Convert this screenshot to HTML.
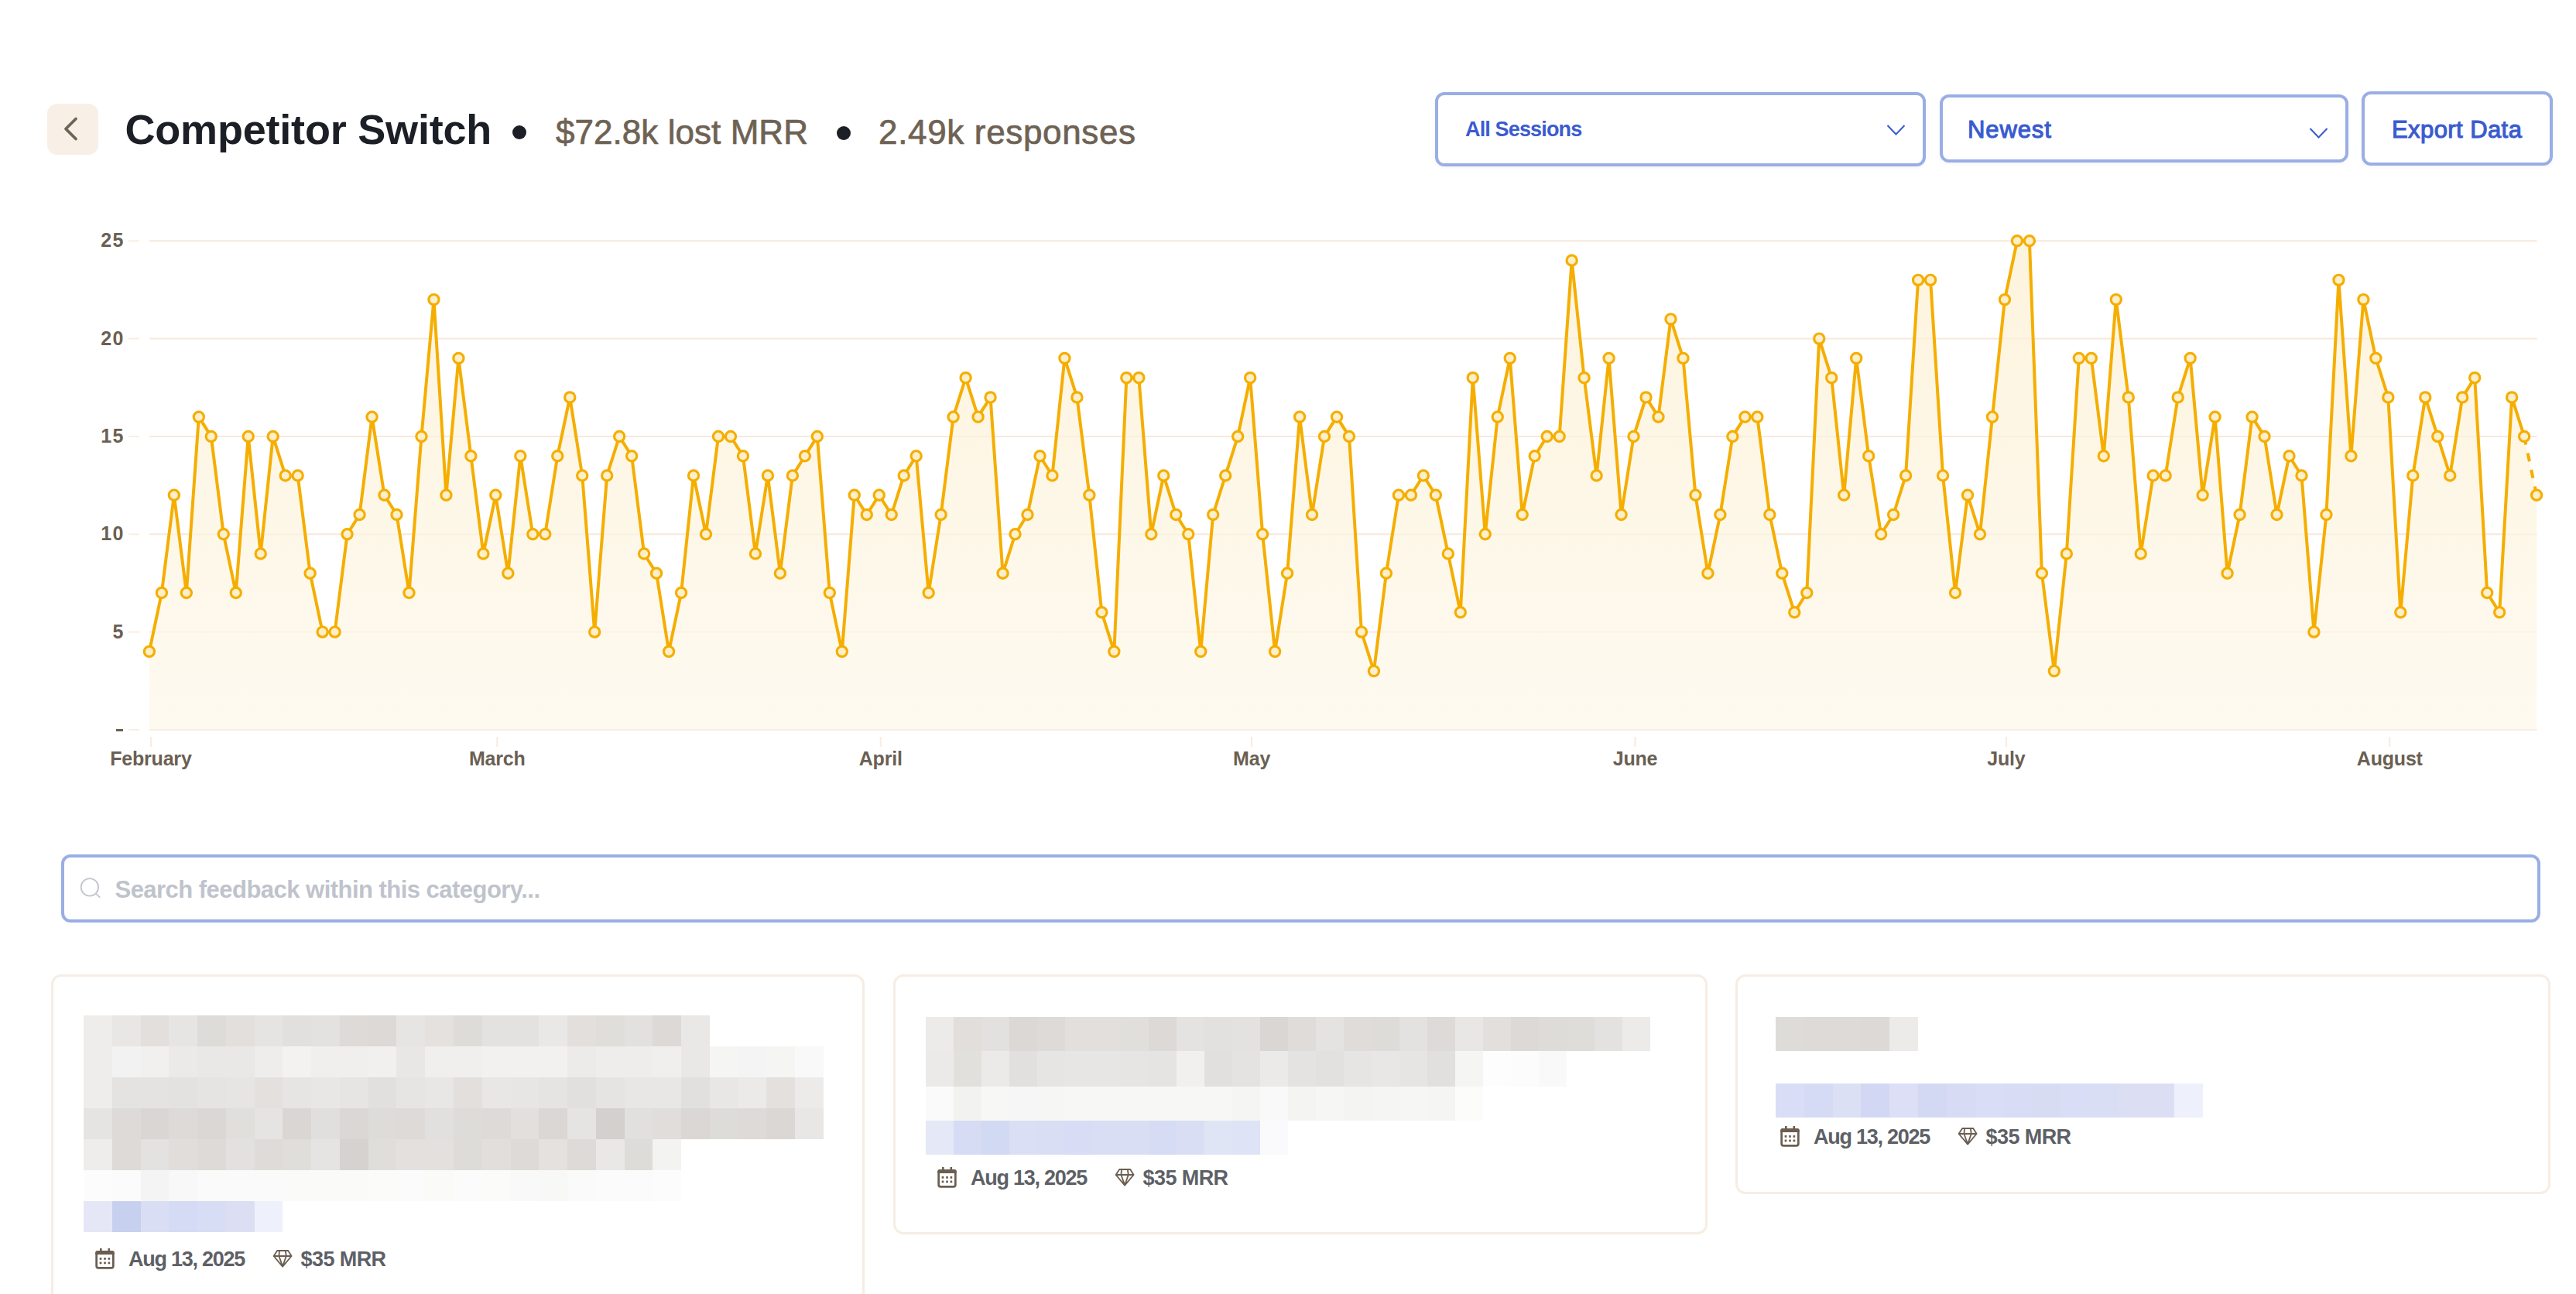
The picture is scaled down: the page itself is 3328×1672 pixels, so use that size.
<!DOCTYPE html>
<html><head><meta charset="utf-8"><style>
html,body{margin:0;padding:0;width:3328px;height:1672px;overflow:hidden;background:#fff}
body{position:relative;font-family:"Liberation Sans",sans-serif}
.t{position:absolute;white-space:nowrap;line-height:1}
</style></head><body>
<div style="position:absolute;left:61px;top:134px;width:66px;height:66px;border-radius:13px;background:#f8efe6"></div><svg style="position:absolute;left:0;top:0" width="200" height="220"><path d="M98 153.5 L85 166.5 L98 179.5" fill="none" stroke="#6f6355" stroke-width="3.8" stroke-linecap="round" stroke-linejoin="round"/></svg><div class="t" style="left:161.5px;top:140.3px;font-size:54px;color:#1c1f26;font-weight:700;letter-spacing:-0.2px;">Competitor Switch</div><div style="position:absolute;left:661.5px;top:162px;width:18px;height:18px;border-radius:50%;background:#1c1f26"></div><div class="t" style="left:718.0px;top:148.8px;font-size:44px;color:#6e6254;font-weight:400;letter-spacing:0.05px;-webkit-text-stroke:0.7px #6e6254;">$72.8k lost MRR</div><div style="position:absolute;left:1080.5px;top:163px;width:18px;height:18px;border-radius:50%;background:#1c1f26"></div><div class="t" style="left:1135.0px;top:148.8px;font-size:44px;color:#6e6254;font-weight:400;letter-spacing:0.66px;-webkit-text-stroke:0.7px #6e6254;">2.49k responses</div><div style="position:absolute;left:1854px;top:119px;width:634px;height:96px;box-sizing:border-box;border:4px solid #9aaee5;border-radius:12px;background:#fff;box-shadow:0 2px 5px rgba(0,0,0,0.045)"></div><div class="t" style="left:1893.0px;top:154.1px;font-size:27px;color:#3a5bd0;font-weight:700;letter-spacing:-0.85px;">All Sessions</div><svg style="position:absolute;left:0;top:0;overflow:visible" width="1" height="1"><path d="M2438.5 162 L2449.5 173.5 L2460.5 162" fill="none" stroke="#3a5bd0" stroke-width="2"/></svg><div style="position:absolute;left:2506px;top:122px;width:528px;height:88px;box-sizing:border-box;border:4px solid #9aaee5;border-radius:12px;background:#fff;box-shadow:0 2px 5px rgba(0,0,0,0.045)"></div><div class="t" style="left:2542.0px;top:151.8px;font-size:31px;color:#3a5bd0;font-weight:400;letter-spacing:0.9px;-webkit-text-stroke:1.1px #3a5bd0;">Newest</div><svg style="position:absolute;left:0;top:0;overflow:visible" width="1" height="1"><path d="M2984.5 166 L2995.5 177.5 L3006.5 166" fill="none" stroke="#3a5bd0" stroke-width="2"/></svg><div style="position:absolute;left:3051px;top:118px;width:247px;height:96px;box-sizing:border-box;border:4px solid #9aaee5;border-radius:12px;background:#fff;box-shadow:0 2px 5px rgba(0,0,0,0.045)"></div><div class="t" style="left:3090.0px;top:151.8px;font-size:31px;color:#3a5bd0;font-weight:400;letter-spacing:0.42px;-webkit-text-stroke:1.1px #3a5bd0;">Export Data</div><svg style="position:absolute;left:0;top:0" width="3328" height="1672"><defs><linearGradient id="ag" x1="0" y1="311" x2="0" y2="943" gradientUnits="userSpaceOnUse"><stop offset="0" stop-color="#fdf4de"/><stop offset="1" stop-color="#fefaf0"/></linearGradient></defs><rect x="193" y="941.9" width="3084.5" height="2" fill="#f9eee4"/><rect x="166" y="941.9" width="14" height="2" fill="#f9eee4"/><rect x="193" y="815.6" width="3084.5" height="2" fill="#f9eee4"/><rect x="166" y="815.6" width="14" height="2" fill="#f9eee4"/><rect x="193" y="689.3" width="3084.5" height="2" fill="#f9eee4"/><rect x="166" y="689.3" width="14" height="2" fill="#f9eee4"/><rect x="193" y="562.9" width="3084.5" height="2" fill="#f9eee4"/><rect x="166" y="562.9" width="14" height="2" fill="#f9eee4"/><rect x="193" y="436.6" width="3084.5" height="2" fill="#f9eee4"/><rect x="166" y="436.6" width="14" height="2" fill="#f9eee4"/><rect x="193" y="310.3" width="3084.5" height="2" fill="#f9eee4"/><rect x="166" y="310.3" width="14" height="2" fill="#f9eee4"/><polygon points="192.90,942.9 192.90,841.84 208.88,766.05 224.86,639.73 240.84,766.05 256.82,538.68 272.80,563.94 288.78,690.26 304.76,766.05 320.74,563.94 336.72,715.52 352.70,563.94 368.68,614.47 384.66,614.47 400.64,740.79 416.62,816.58 432.60,816.58 448.58,690.26 464.57,665.00 480.55,538.68 496.53,639.73 512.51,665.00 528.49,766.05 544.47,563.94 560.45,387.09 576.43,639.73 592.41,462.88 608.39,589.20 624.37,715.52 640.35,639.73 656.33,740.79 672.31,589.20 688.29,690.26 704.27,690.26 720.25,589.20 736.23,513.41 752.21,614.47 768.19,816.58 784.17,614.47 800.15,563.94 816.13,589.20 832.11,715.52 848.09,740.79 864.07,841.84 880.05,766.05 896.03,614.47 912.01,690.26 927.99,563.94 943.97,563.94 959.95,589.20 975.94,715.52 991.92,614.47 1007.90,740.79 1023.88,614.47 1039.86,589.20 1055.84,563.94 1071.82,766.05 1087.80,841.84 1103.78,639.73 1119.76,665.00 1135.74,639.73 1151.72,665.00 1167.70,614.47 1183.68,589.20 1199.66,766.05 1215.64,665.00 1231.62,538.68 1247.60,488.15 1263.58,538.68 1279.56,513.41 1295.54,740.79 1311.52,690.26 1327.50,665.00 1343.48,589.20 1359.46,614.47 1375.44,462.88 1391.42,513.41 1407.40,639.73 1423.38,791.32 1439.36,841.84 1455.34,488.15 1471.32,488.15 1487.31,690.26 1503.29,614.47 1519.27,665.00 1535.25,690.26 1551.23,841.84 1567.21,665.00 1583.19,614.47 1599.17,563.94 1615.15,488.15 1631.13,690.26 1647.11,841.84 1663.09,740.79 1679.07,538.68 1695.05,665.00 1711.03,563.94 1727.01,538.68 1742.99,563.94 1758.97,816.58 1774.95,867.11 1790.93,740.79 1806.91,639.73 1822.89,639.73 1838.87,614.47 1854.85,639.73 1870.83,715.52 1886.81,791.32 1902.79,488.15 1918.77,690.26 1934.75,538.68 1950.73,462.88 1966.71,665.00 1982.69,589.20 1998.68,563.94 2014.66,563.94 2030.64,336.56 2046.62,488.15 2062.60,614.47 2078.58,462.88 2094.56,665.00 2110.54,563.94 2126.52,513.41 2142.50,538.68 2158.48,412.36 2174.46,462.88 2190.44,639.73 2206.42,740.79 2222.40,665.00 2238.38,563.94 2254.36,538.68 2270.34,538.68 2286.32,665.00 2302.30,740.79 2318.28,791.32 2334.26,766.05 2350.24,437.62 2366.22,488.15 2382.20,639.73 2398.18,462.88 2414.16,589.20 2430.14,690.26 2446.12,665.00 2462.10,614.47 2478.08,361.83 2494.06,361.83 2510.05,614.47 2526.03,766.05 2542.01,639.73 2557.99,690.26 2573.97,538.68 2589.95,387.09 2605.93,311.30 2621.91,311.30 2637.89,740.79 2653.87,867.11 2669.85,715.52 2685.83,462.88 2701.81,462.88 2717.79,589.20 2733.77,387.09 2749.75,513.41 2765.73,715.52 2781.71,614.47 2797.69,614.47 2813.67,513.41 2829.65,462.88 2845.63,639.73 2861.61,538.68 2877.59,740.79 2893.57,665.00 2909.55,538.68 2925.53,563.94 2941.51,665.00 2957.49,589.20 2973.47,614.47 2989.45,816.58 3005.43,665.00 3021.42,361.83 3037.40,589.20 3053.38,387.09 3069.36,462.88 3085.34,513.41 3101.32,791.32 3117.30,614.47 3133.28,513.41 3149.26,563.94 3165.24,614.47 3181.22,513.41 3197.20,488.15 3213.18,766.05 3229.16,791.32 3245.14,513.41 3261.12,563.94 3277.10,639.73 3277.10,942.9" fill="url(#ag)"/><rect x="193" y="815.6" width="3084.5" height="2" fill="#f3dcc6" opacity="0.22"/><rect x="193" y="689.3" width="3084.5" height="2" fill="#f3dcc6" opacity="0.22"/><rect x="193" y="562.9" width="3084.5" height="2" fill="#f3dcc6" opacity="0.22"/><rect x="193" y="436.6" width="3084.5" height="2" fill="#f3dcc6" opacity="0.22"/><rect x="193" y="310.3" width="3084.5" height="2" fill="#f3dcc6" opacity="0.22"/><rect x="193" y="941.9" width="3084.5" height="2" fill="#f9eee4"/><polyline points="192.90,841.84 208.88,766.05 224.86,639.73 240.84,766.05 256.82,538.68 272.80,563.94 288.78,690.26 304.76,766.05 320.74,563.94 336.72,715.52 352.70,563.94 368.68,614.47 384.66,614.47 400.64,740.79 416.62,816.58 432.60,816.58 448.58,690.26 464.57,665.00 480.55,538.68 496.53,639.73 512.51,665.00 528.49,766.05 544.47,563.94 560.45,387.09 576.43,639.73 592.41,462.88 608.39,589.20 624.37,715.52 640.35,639.73 656.33,740.79 672.31,589.20 688.29,690.26 704.27,690.26 720.25,589.20 736.23,513.41 752.21,614.47 768.19,816.58 784.17,614.47 800.15,563.94 816.13,589.20 832.11,715.52 848.09,740.79 864.07,841.84 880.05,766.05 896.03,614.47 912.01,690.26 927.99,563.94 943.97,563.94 959.95,589.20 975.94,715.52 991.92,614.47 1007.90,740.79 1023.88,614.47 1039.86,589.20 1055.84,563.94 1071.82,766.05 1087.80,841.84 1103.78,639.73 1119.76,665.00 1135.74,639.73 1151.72,665.00 1167.70,614.47 1183.68,589.20 1199.66,766.05 1215.64,665.00 1231.62,538.68 1247.60,488.15 1263.58,538.68 1279.56,513.41 1295.54,740.79 1311.52,690.26 1327.50,665.00 1343.48,589.20 1359.46,614.47 1375.44,462.88 1391.42,513.41 1407.40,639.73 1423.38,791.32 1439.36,841.84 1455.34,488.15 1471.32,488.15 1487.31,690.26 1503.29,614.47 1519.27,665.00 1535.25,690.26 1551.23,841.84 1567.21,665.00 1583.19,614.47 1599.17,563.94 1615.15,488.15 1631.13,690.26 1647.11,841.84 1663.09,740.79 1679.07,538.68 1695.05,665.00 1711.03,563.94 1727.01,538.68 1742.99,563.94 1758.97,816.58 1774.95,867.11 1790.93,740.79 1806.91,639.73 1822.89,639.73 1838.87,614.47 1854.85,639.73 1870.83,715.52 1886.81,791.32 1902.79,488.15 1918.77,690.26 1934.75,538.68 1950.73,462.88 1966.71,665.00 1982.69,589.20 1998.68,563.94 2014.66,563.94 2030.64,336.56 2046.62,488.15 2062.60,614.47 2078.58,462.88 2094.56,665.00 2110.54,563.94 2126.52,513.41 2142.50,538.68 2158.48,412.36 2174.46,462.88 2190.44,639.73 2206.42,740.79 2222.40,665.00 2238.38,563.94 2254.36,538.68 2270.34,538.68 2286.32,665.00 2302.30,740.79 2318.28,791.32 2334.26,766.05 2350.24,437.62 2366.22,488.15 2382.20,639.73 2398.18,462.88 2414.16,589.20 2430.14,690.26 2446.12,665.00 2462.10,614.47 2478.08,361.83 2494.06,361.83 2510.05,614.47 2526.03,766.05 2542.01,639.73 2557.99,690.26 2573.97,538.68 2589.95,387.09 2605.93,311.30 2621.91,311.30 2637.89,740.79 2653.87,867.11 2669.85,715.52 2685.83,462.88 2701.81,462.88 2717.79,589.20 2733.77,387.09 2749.75,513.41 2765.73,715.52 2781.71,614.47 2797.69,614.47 2813.67,513.41 2829.65,462.88 2845.63,639.73 2861.61,538.68 2877.59,740.79 2893.57,665.00 2909.55,538.68 2925.53,563.94 2941.51,665.00 2957.49,589.20 2973.47,614.47 2989.45,816.58 3005.43,665.00 3021.42,361.83 3037.40,589.20 3053.38,387.09 3069.36,462.88 3085.34,513.41 3101.32,791.32 3117.30,614.47 3133.28,513.41 3149.26,563.94 3165.24,614.47 3181.22,513.41 3197.20,488.15 3213.18,766.05 3229.16,791.32 3245.14,513.41 3261.12,563.94" fill="none" stroke="#f5ae00" stroke-width="4" stroke-linejoin="round" stroke-linecap="round"/><line x1="3261.12" y1="563.94" x2="3277.10" y2="639.73" stroke="#f5ae00" stroke-width="4" stroke-dasharray="11 11"/><circle cx="192.90" cy="841.84" r="6.6" fill="#fdefca" stroke="#f5ae00" stroke-width="3.2"/><circle cx="208.88" cy="766.05" r="6.6" fill="#fdefca" stroke="#f5ae00" stroke-width="3.2"/><circle cx="224.86" cy="639.73" r="6.6" fill="#fdefca" stroke="#f5ae00" stroke-width="3.2"/><circle cx="240.84" cy="766.05" r="6.6" fill="#fdefca" stroke="#f5ae00" stroke-width="3.2"/><circle cx="256.82" cy="538.68" r="6.6" fill="#fdefca" stroke="#f5ae00" stroke-width="3.2"/><circle cx="272.80" cy="563.94" r="6.6" fill="#fdefca" stroke="#f5ae00" stroke-width="3.2"/><circle cx="288.78" cy="690.26" r="6.6" fill="#fdefca" stroke="#f5ae00" stroke-width="3.2"/><circle cx="304.76" cy="766.05" r="6.6" fill="#fdefca" stroke="#f5ae00" stroke-width="3.2"/><circle cx="320.74" cy="563.94" r="6.6" fill="#fdefca" stroke="#f5ae00" stroke-width="3.2"/><circle cx="336.72" cy="715.52" r="6.6" fill="#fdefca" stroke="#f5ae00" stroke-width="3.2"/><circle cx="352.70" cy="563.94" r="6.6" fill="#fdefca" stroke="#f5ae00" stroke-width="3.2"/><circle cx="368.68" cy="614.47" r="6.6" fill="#fdefca" stroke="#f5ae00" stroke-width="3.2"/><circle cx="384.66" cy="614.47" r="6.6" fill="#fdefca" stroke="#f5ae00" stroke-width="3.2"/><circle cx="400.64" cy="740.79" r="6.6" fill="#fdefca" stroke="#f5ae00" stroke-width="3.2"/><circle cx="416.62" cy="816.58" r="6.6" fill="#fdefca" stroke="#f5ae00" stroke-width="3.2"/><circle cx="432.60" cy="816.58" r="6.6" fill="#fdefca" stroke="#f5ae00" stroke-width="3.2"/><circle cx="448.58" cy="690.26" r="6.6" fill="#fdefca" stroke="#f5ae00" stroke-width="3.2"/><circle cx="464.57" cy="665.00" r="6.6" fill="#fdefca" stroke="#f5ae00" stroke-width="3.2"/><circle cx="480.55" cy="538.68" r="6.6" fill="#fdefca" stroke="#f5ae00" stroke-width="3.2"/><circle cx="496.53" cy="639.73" r="6.6" fill="#fdefca" stroke="#f5ae00" stroke-width="3.2"/><circle cx="512.51" cy="665.00" r="6.6" fill="#fdefca" stroke="#f5ae00" stroke-width="3.2"/><circle cx="528.49" cy="766.05" r="6.6" fill="#fdefca" stroke="#f5ae00" stroke-width="3.2"/><circle cx="544.47" cy="563.94" r="6.6" fill="#fdefca" stroke="#f5ae00" stroke-width="3.2"/><circle cx="560.45" cy="387.09" r="6.6" fill="#fdefca" stroke="#f5ae00" stroke-width="3.2"/><circle cx="576.43" cy="639.73" r="6.6" fill="#fdefca" stroke="#f5ae00" stroke-width="3.2"/><circle cx="592.41" cy="462.88" r="6.6" fill="#fdefca" stroke="#f5ae00" stroke-width="3.2"/><circle cx="608.39" cy="589.20" r="6.6" fill="#fdefca" stroke="#f5ae00" stroke-width="3.2"/><circle cx="624.37" cy="715.52" r="6.6" fill="#fdefca" stroke="#f5ae00" stroke-width="3.2"/><circle cx="640.35" cy="639.73" r="6.6" fill="#fdefca" stroke="#f5ae00" stroke-width="3.2"/><circle cx="656.33" cy="740.79" r="6.6" fill="#fdefca" stroke="#f5ae00" stroke-width="3.2"/><circle cx="672.31" cy="589.20" r="6.6" fill="#fdefca" stroke="#f5ae00" stroke-width="3.2"/><circle cx="688.29" cy="690.26" r="6.6" fill="#fdefca" stroke="#f5ae00" stroke-width="3.2"/><circle cx="704.27" cy="690.26" r="6.6" fill="#fdefca" stroke="#f5ae00" stroke-width="3.2"/><circle cx="720.25" cy="589.20" r="6.6" fill="#fdefca" stroke="#f5ae00" stroke-width="3.2"/><circle cx="736.23" cy="513.41" r="6.6" fill="#fdefca" stroke="#f5ae00" stroke-width="3.2"/><circle cx="752.21" cy="614.47" r="6.6" fill="#fdefca" stroke="#f5ae00" stroke-width="3.2"/><circle cx="768.19" cy="816.58" r="6.6" fill="#fdefca" stroke="#f5ae00" stroke-width="3.2"/><circle cx="784.17" cy="614.47" r="6.6" fill="#fdefca" stroke="#f5ae00" stroke-width="3.2"/><circle cx="800.15" cy="563.94" r="6.6" fill="#fdefca" stroke="#f5ae00" stroke-width="3.2"/><circle cx="816.13" cy="589.20" r="6.6" fill="#fdefca" stroke="#f5ae00" stroke-width="3.2"/><circle cx="832.11" cy="715.52" r="6.6" fill="#fdefca" stroke="#f5ae00" stroke-width="3.2"/><circle cx="848.09" cy="740.79" r="6.6" fill="#fdefca" stroke="#f5ae00" stroke-width="3.2"/><circle cx="864.07" cy="841.84" r="6.6" fill="#fdefca" stroke="#f5ae00" stroke-width="3.2"/><circle cx="880.05" cy="766.05" r="6.6" fill="#fdefca" stroke="#f5ae00" stroke-width="3.2"/><circle cx="896.03" cy="614.47" r="6.6" fill="#fdefca" stroke="#f5ae00" stroke-width="3.2"/><circle cx="912.01" cy="690.26" r="6.6" fill="#fdefca" stroke="#f5ae00" stroke-width="3.2"/><circle cx="927.99" cy="563.94" r="6.6" fill="#fdefca" stroke="#f5ae00" stroke-width="3.2"/><circle cx="943.97" cy="563.94" r="6.6" fill="#fdefca" stroke="#f5ae00" stroke-width="3.2"/><circle cx="959.95" cy="589.20" r="6.6" fill="#fdefca" stroke="#f5ae00" stroke-width="3.2"/><circle cx="975.94" cy="715.52" r="6.6" fill="#fdefca" stroke="#f5ae00" stroke-width="3.2"/><circle cx="991.92" cy="614.47" r="6.6" fill="#fdefca" stroke="#f5ae00" stroke-width="3.2"/><circle cx="1007.90" cy="740.79" r="6.6" fill="#fdefca" stroke="#f5ae00" stroke-width="3.2"/><circle cx="1023.88" cy="614.47" r="6.6" fill="#fdefca" stroke="#f5ae00" stroke-width="3.2"/><circle cx="1039.86" cy="589.20" r="6.6" fill="#fdefca" stroke="#f5ae00" stroke-width="3.2"/><circle cx="1055.84" cy="563.94" r="6.6" fill="#fdefca" stroke="#f5ae00" stroke-width="3.2"/><circle cx="1071.82" cy="766.05" r="6.6" fill="#fdefca" stroke="#f5ae00" stroke-width="3.2"/><circle cx="1087.80" cy="841.84" r="6.6" fill="#fdefca" stroke="#f5ae00" stroke-width="3.2"/><circle cx="1103.78" cy="639.73" r="6.6" fill="#fdefca" stroke="#f5ae00" stroke-width="3.2"/><circle cx="1119.76" cy="665.00" r="6.6" fill="#fdefca" stroke="#f5ae00" stroke-width="3.2"/><circle cx="1135.74" cy="639.73" r="6.6" fill="#fdefca" stroke="#f5ae00" stroke-width="3.2"/><circle cx="1151.72" cy="665.00" r="6.6" fill="#fdefca" stroke="#f5ae00" stroke-width="3.2"/><circle cx="1167.70" cy="614.47" r="6.6" fill="#fdefca" stroke="#f5ae00" stroke-width="3.2"/><circle cx="1183.68" cy="589.20" r="6.6" fill="#fdefca" stroke="#f5ae00" stroke-width="3.2"/><circle cx="1199.66" cy="766.05" r="6.6" fill="#fdefca" stroke="#f5ae00" stroke-width="3.2"/><circle cx="1215.64" cy="665.00" r="6.6" fill="#fdefca" stroke="#f5ae00" stroke-width="3.2"/><circle cx="1231.62" cy="538.68" r="6.6" fill="#fdefca" stroke="#f5ae00" stroke-width="3.2"/><circle cx="1247.60" cy="488.15" r="6.6" fill="#fdefca" stroke="#f5ae00" stroke-width="3.2"/><circle cx="1263.58" cy="538.68" r="6.6" fill="#fdefca" stroke="#f5ae00" stroke-width="3.2"/><circle cx="1279.56" cy="513.41" r="6.6" fill="#fdefca" stroke="#f5ae00" stroke-width="3.2"/><circle cx="1295.54" cy="740.79" r="6.6" fill="#fdefca" stroke="#f5ae00" stroke-width="3.2"/><circle cx="1311.52" cy="690.26" r="6.6" fill="#fdefca" stroke="#f5ae00" stroke-width="3.2"/><circle cx="1327.50" cy="665.00" r="6.6" fill="#fdefca" stroke="#f5ae00" stroke-width="3.2"/><circle cx="1343.48" cy="589.20" r="6.6" fill="#fdefca" stroke="#f5ae00" stroke-width="3.2"/><circle cx="1359.46" cy="614.47" r="6.6" fill="#fdefca" stroke="#f5ae00" stroke-width="3.2"/><circle cx="1375.44" cy="462.88" r="6.6" fill="#fdefca" stroke="#f5ae00" stroke-width="3.2"/><circle cx="1391.42" cy="513.41" r="6.6" fill="#fdefca" stroke="#f5ae00" stroke-width="3.2"/><circle cx="1407.40" cy="639.73" r="6.6" fill="#fdefca" stroke="#f5ae00" stroke-width="3.2"/><circle cx="1423.38" cy="791.32" r="6.6" fill="#fdefca" stroke="#f5ae00" stroke-width="3.2"/><circle cx="1439.36" cy="841.84" r="6.6" fill="#fdefca" stroke="#f5ae00" stroke-width="3.2"/><circle cx="1455.34" cy="488.15" r="6.6" fill="#fdefca" stroke="#f5ae00" stroke-width="3.2"/><circle cx="1471.32" cy="488.15" r="6.6" fill="#fdefca" stroke="#f5ae00" stroke-width="3.2"/><circle cx="1487.31" cy="690.26" r="6.6" fill="#fdefca" stroke="#f5ae00" stroke-width="3.2"/><circle cx="1503.29" cy="614.47" r="6.6" fill="#fdefca" stroke="#f5ae00" stroke-width="3.2"/><circle cx="1519.27" cy="665.00" r="6.6" fill="#fdefca" stroke="#f5ae00" stroke-width="3.2"/><circle cx="1535.25" cy="690.26" r="6.6" fill="#fdefca" stroke="#f5ae00" stroke-width="3.2"/><circle cx="1551.23" cy="841.84" r="6.6" fill="#fdefca" stroke="#f5ae00" stroke-width="3.2"/><circle cx="1567.21" cy="665.00" r="6.6" fill="#fdefca" stroke="#f5ae00" stroke-width="3.2"/><circle cx="1583.19" cy="614.47" r="6.6" fill="#fdefca" stroke="#f5ae00" stroke-width="3.2"/><circle cx="1599.17" cy="563.94" r="6.6" fill="#fdefca" stroke="#f5ae00" stroke-width="3.2"/><circle cx="1615.15" cy="488.15" r="6.6" fill="#fdefca" stroke="#f5ae00" stroke-width="3.2"/><circle cx="1631.13" cy="690.26" r="6.6" fill="#fdefca" stroke="#f5ae00" stroke-width="3.2"/><circle cx="1647.11" cy="841.84" r="6.6" fill="#fdefca" stroke="#f5ae00" stroke-width="3.2"/><circle cx="1663.09" cy="740.79" r="6.6" fill="#fdefca" stroke="#f5ae00" stroke-width="3.2"/><circle cx="1679.07" cy="538.68" r="6.6" fill="#fdefca" stroke="#f5ae00" stroke-width="3.2"/><circle cx="1695.05" cy="665.00" r="6.6" fill="#fdefca" stroke="#f5ae00" stroke-width="3.2"/><circle cx="1711.03" cy="563.94" r="6.6" fill="#fdefca" stroke="#f5ae00" stroke-width="3.2"/><circle cx="1727.01" cy="538.68" r="6.6" fill="#fdefca" stroke="#f5ae00" stroke-width="3.2"/><circle cx="1742.99" cy="563.94" r="6.6" fill="#fdefca" stroke="#f5ae00" stroke-width="3.2"/><circle cx="1758.97" cy="816.58" r="6.6" fill="#fdefca" stroke="#f5ae00" stroke-width="3.2"/><circle cx="1774.95" cy="867.11" r="6.6" fill="#fdefca" stroke="#f5ae00" stroke-width="3.2"/><circle cx="1790.93" cy="740.79" r="6.6" fill="#fdefca" stroke="#f5ae00" stroke-width="3.2"/><circle cx="1806.91" cy="639.73" r="6.6" fill="#fdefca" stroke="#f5ae00" stroke-width="3.2"/><circle cx="1822.89" cy="639.73" r="6.6" fill="#fdefca" stroke="#f5ae00" stroke-width="3.2"/><circle cx="1838.87" cy="614.47" r="6.6" fill="#fdefca" stroke="#f5ae00" stroke-width="3.2"/><circle cx="1854.85" cy="639.73" r="6.6" fill="#fdefca" stroke="#f5ae00" stroke-width="3.2"/><circle cx="1870.83" cy="715.52" r="6.6" fill="#fdefca" stroke="#f5ae00" stroke-width="3.2"/><circle cx="1886.81" cy="791.32" r="6.6" fill="#fdefca" stroke="#f5ae00" stroke-width="3.2"/><circle cx="1902.79" cy="488.15" r="6.6" fill="#fdefca" stroke="#f5ae00" stroke-width="3.2"/><circle cx="1918.77" cy="690.26" r="6.6" fill="#fdefca" stroke="#f5ae00" stroke-width="3.2"/><circle cx="1934.75" cy="538.68" r="6.6" fill="#fdefca" stroke="#f5ae00" stroke-width="3.2"/><circle cx="1950.73" cy="462.88" r="6.6" fill="#fdefca" stroke="#f5ae00" stroke-width="3.2"/><circle cx="1966.71" cy="665.00" r="6.6" fill="#fdefca" stroke="#f5ae00" stroke-width="3.2"/><circle cx="1982.69" cy="589.20" r="6.6" fill="#fdefca" stroke="#f5ae00" stroke-width="3.2"/><circle cx="1998.68" cy="563.94" r="6.6" fill="#fdefca" stroke="#f5ae00" stroke-width="3.2"/><circle cx="2014.66" cy="563.94" r="6.6" fill="#fdefca" stroke="#f5ae00" stroke-width="3.2"/><circle cx="2030.64" cy="336.56" r="6.6" fill="#fdefca" stroke="#f5ae00" stroke-width="3.2"/><circle cx="2046.62" cy="488.15" r="6.6" fill="#fdefca" stroke="#f5ae00" stroke-width="3.2"/><circle cx="2062.60" cy="614.47" r="6.6" fill="#fdefca" stroke="#f5ae00" stroke-width="3.2"/><circle cx="2078.58" cy="462.88" r="6.6" fill="#fdefca" stroke="#f5ae00" stroke-width="3.2"/><circle cx="2094.56" cy="665.00" r="6.6" fill="#fdefca" stroke="#f5ae00" stroke-width="3.2"/><circle cx="2110.54" cy="563.94" r="6.6" fill="#fdefca" stroke="#f5ae00" stroke-width="3.2"/><circle cx="2126.52" cy="513.41" r="6.6" fill="#fdefca" stroke="#f5ae00" stroke-width="3.2"/><circle cx="2142.50" cy="538.68" r="6.6" fill="#fdefca" stroke="#f5ae00" stroke-width="3.2"/><circle cx="2158.48" cy="412.36" r="6.6" fill="#fdefca" stroke="#f5ae00" stroke-width="3.2"/><circle cx="2174.46" cy="462.88" r="6.6" fill="#fdefca" stroke="#f5ae00" stroke-width="3.2"/><circle cx="2190.44" cy="639.73" r="6.6" fill="#fdefca" stroke="#f5ae00" stroke-width="3.2"/><circle cx="2206.42" cy="740.79" r="6.6" fill="#fdefca" stroke="#f5ae00" stroke-width="3.2"/><circle cx="2222.40" cy="665.00" r="6.6" fill="#fdefca" stroke="#f5ae00" stroke-width="3.2"/><circle cx="2238.38" cy="563.94" r="6.6" fill="#fdefca" stroke="#f5ae00" stroke-width="3.2"/><circle cx="2254.36" cy="538.68" r="6.6" fill="#fdefca" stroke="#f5ae00" stroke-width="3.2"/><circle cx="2270.34" cy="538.68" r="6.6" fill="#fdefca" stroke="#f5ae00" stroke-width="3.2"/><circle cx="2286.32" cy="665.00" r="6.6" fill="#fdefca" stroke="#f5ae00" stroke-width="3.2"/><circle cx="2302.30" cy="740.79" r="6.6" fill="#fdefca" stroke="#f5ae00" stroke-width="3.2"/><circle cx="2318.28" cy="791.32" r="6.6" fill="#fdefca" stroke="#f5ae00" stroke-width="3.2"/><circle cx="2334.26" cy="766.05" r="6.6" fill="#fdefca" stroke="#f5ae00" stroke-width="3.2"/><circle cx="2350.24" cy="437.62" r="6.6" fill="#fdefca" stroke="#f5ae00" stroke-width="3.2"/><circle cx="2366.22" cy="488.15" r="6.6" fill="#fdefca" stroke="#f5ae00" stroke-width="3.2"/><circle cx="2382.20" cy="639.73" r="6.6" fill="#fdefca" stroke="#f5ae00" stroke-width="3.2"/><circle cx="2398.18" cy="462.88" r="6.6" fill="#fdefca" stroke="#f5ae00" stroke-width="3.2"/><circle cx="2414.16" cy="589.20" r="6.6" fill="#fdefca" stroke="#f5ae00" stroke-width="3.2"/><circle cx="2430.14" cy="690.26" r="6.6" fill="#fdefca" stroke="#f5ae00" stroke-width="3.2"/><circle cx="2446.12" cy="665.00" r="6.6" fill="#fdefca" stroke="#f5ae00" stroke-width="3.2"/><circle cx="2462.10" cy="614.47" r="6.6" fill="#fdefca" stroke="#f5ae00" stroke-width="3.2"/><circle cx="2478.08" cy="361.83" r="6.6" fill="#fdefca" stroke="#f5ae00" stroke-width="3.2"/><circle cx="2494.06" cy="361.83" r="6.6" fill="#fdefca" stroke="#f5ae00" stroke-width="3.2"/><circle cx="2510.05" cy="614.47" r="6.6" fill="#fdefca" stroke="#f5ae00" stroke-width="3.2"/><circle cx="2526.03" cy="766.05" r="6.6" fill="#fdefca" stroke="#f5ae00" stroke-width="3.2"/><circle cx="2542.01" cy="639.73" r="6.6" fill="#fdefca" stroke="#f5ae00" stroke-width="3.2"/><circle cx="2557.99" cy="690.26" r="6.6" fill="#fdefca" stroke="#f5ae00" stroke-width="3.2"/><circle cx="2573.97" cy="538.68" r="6.6" fill="#fdefca" stroke="#f5ae00" stroke-width="3.2"/><circle cx="2589.95" cy="387.09" r="6.6" fill="#fdefca" stroke="#f5ae00" stroke-width="3.2"/><circle cx="2605.93" cy="311.30" r="6.6" fill="#fdefca" stroke="#f5ae00" stroke-width="3.2"/><circle cx="2621.91" cy="311.30" r="6.6" fill="#fdefca" stroke="#f5ae00" stroke-width="3.2"/><circle cx="2637.89" cy="740.79" r="6.6" fill="#fdefca" stroke="#f5ae00" stroke-width="3.2"/><circle cx="2653.87" cy="867.11" r="6.6" fill="#fdefca" stroke="#f5ae00" stroke-width="3.2"/><circle cx="2669.85" cy="715.52" r="6.6" fill="#fdefca" stroke="#f5ae00" stroke-width="3.2"/><circle cx="2685.83" cy="462.88" r="6.6" fill="#fdefca" stroke="#f5ae00" stroke-width="3.2"/><circle cx="2701.81" cy="462.88" r="6.6" fill="#fdefca" stroke="#f5ae00" stroke-width="3.2"/><circle cx="2717.79" cy="589.20" r="6.6" fill="#fdefca" stroke="#f5ae00" stroke-width="3.2"/><circle cx="2733.77" cy="387.09" r="6.6" fill="#fdefca" stroke="#f5ae00" stroke-width="3.2"/><circle cx="2749.75" cy="513.41" r="6.6" fill="#fdefca" stroke="#f5ae00" stroke-width="3.2"/><circle cx="2765.73" cy="715.52" r="6.6" fill="#fdefca" stroke="#f5ae00" stroke-width="3.2"/><circle cx="2781.71" cy="614.47" r="6.6" fill="#fdefca" stroke="#f5ae00" stroke-width="3.2"/><circle cx="2797.69" cy="614.47" r="6.6" fill="#fdefca" stroke="#f5ae00" stroke-width="3.2"/><circle cx="2813.67" cy="513.41" r="6.6" fill="#fdefca" stroke="#f5ae00" stroke-width="3.2"/><circle cx="2829.65" cy="462.88" r="6.6" fill="#fdefca" stroke="#f5ae00" stroke-width="3.2"/><circle cx="2845.63" cy="639.73" r="6.6" fill="#fdefca" stroke="#f5ae00" stroke-width="3.2"/><circle cx="2861.61" cy="538.68" r="6.6" fill="#fdefca" stroke="#f5ae00" stroke-width="3.2"/><circle cx="2877.59" cy="740.79" r="6.6" fill="#fdefca" stroke="#f5ae00" stroke-width="3.2"/><circle cx="2893.57" cy="665.00" r="6.6" fill="#fdefca" stroke="#f5ae00" stroke-width="3.2"/><circle cx="2909.55" cy="538.68" r="6.6" fill="#fdefca" stroke="#f5ae00" stroke-width="3.2"/><circle cx="2925.53" cy="563.94" r="6.6" fill="#fdefca" stroke="#f5ae00" stroke-width="3.2"/><circle cx="2941.51" cy="665.00" r="6.6" fill="#fdefca" stroke="#f5ae00" stroke-width="3.2"/><circle cx="2957.49" cy="589.20" r="6.6" fill="#fdefca" stroke="#f5ae00" stroke-width="3.2"/><circle cx="2973.47" cy="614.47" r="6.6" fill="#fdefca" stroke="#f5ae00" stroke-width="3.2"/><circle cx="2989.45" cy="816.58" r="6.6" fill="#fdefca" stroke="#f5ae00" stroke-width="3.2"/><circle cx="3005.43" cy="665.00" r="6.6" fill="#fdefca" stroke="#f5ae00" stroke-width="3.2"/><circle cx="3021.42" cy="361.83" r="6.6" fill="#fdefca" stroke="#f5ae00" stroke-width="3.2"/><circle cx="3037.40" cy="589.20" r="6.6" fill="#fdefca" stroke="#f5ae00" stroke-width="3.2"/><circle cx="3053.38" cy="387.09" r="6.6" fill="#fdefca" stroke="#f5ae00" stroke-width="3.2"/><circle cx="3069.36" cy="462.88" r="6.6" fill="#fdefca" stroke="#f5ae00" stroke-width="3.2"/><circle cx="3085.34" cy="513.41" r="6.6" fill="#fdefca" stroke="#f5ae00" stroke-width="3.2"/><circle cx="3101.32" cy="791.32" r="6.6" fill="#fdefca" stroke="#f5ae00" stroke-width="3.2"/><circle cx="3117.30" cy="614.47" r="6.6" fill="#fdefca" stroke="#f5ae00" stroke-width="3.2"/><circle cx="3133.28" cy="513.41" r="6.6" fill="#fdefca" stroke="#f5ae00" stroke-width="3.2"/><circle cx="3149.26" cy="563.94" r="6.6" fill="#fdefca" stroke="#f5ae00" stroke-width="3.2"/><circle cx="3165.24" cy="614.47" r="6.6" fill="#fdefca" stroke="#f5ae00" stroke-width="3.2"/><circle cx="3181.22" cy="513.41" r="6.6" fill="#fdefca" stroke="#f5ae00" stroke-width="3.2"/><circle cx="3197.20" cy="488.15" r="6.6" fill="#fdefca" stroke="#f5ae00" stroke-width="3.2"/><circle cx="3213.18" cy="766.05" r="6.6" fill="#fdefca" stroke="#f5ae00" stroke-width="3.2"/><circle cx="3229.16" cy="791.32" r="6.6" fill="#fdefca" stroke="#f5ae00" stroke-width="3.2"/><circle cx="3245.14" cy="513.41" r="6.6" fill="#fdefca" stroke="#f5ae00" stroke-width="3.2"/><circle cx="3261.12" cy="563.94" r="6.6" fill="#fdefca" stroke="#f5ae00" stroke-width="3.2"/><circle cx="3277.10" cy="639.73" r="6.6" fill="#fdefca" stroke="#f5ae00" stroke-width="3.2"/><rect x="193.9" y="952" width="2" height="13" fill="#f8ebe0"/><rect x="641.3" y="952" width="2" height="13" fill="#f8ebe0"/><rect x="1136.7" y="952" width="2" height="13" fill="#f8ebe0"/><rect x="1616.1" y="952" width="2" height="13" fill="#f8ebe0"/><rect x="2111.5" y="952" width="2" height="13" fill="#f8ebe0"/><rect x="2590.9" y="952" width="2" height="13" fill="#f8ebe0"/><rect x="3086.3" y="952" width="2" height="13" fill="#f8ebe0"/></svg><div class="t" style="right:3167.5px;top:803.6px;font-size:25px;line-height:25px;color:#6b5f53;font-weight:700;letter-spacing:1.2px;text-align:right">5</div><div class="t" style="right:3167.5px;top:677.3px;font-size:25px;line-height:25px;color:#6b5f53;font-weight:700;letter-spacing:1.2px;text-align:right">10</div><div class="t" style="right:3167.5px;top:550.9px;font-size:25px;line-height:25px;color:#6b5f53;font-weight:700;letter-spacing:1.2px;text-align:right">15</div><div class="t" style="right:3167.5px;top:424.6px;font-size:25px;line-height:25px;color:#6b5f53;font-weight:700;letter-spacing:1.2px;text-align:right">20</div><div class="t" style="right:3167.5px;top:298.3px;font-size:25px;line-height:25px;color:#6b5f53;font-weight:700;letter-spacing:1.2px;text-align:right">25</div><div style="position:absolute;left:150px;top:941.5px;width:8.5px;height:3.2px;background:#6b5f53"></div><div class="t" style="left:-105.1px;width:600px;text-align:center;top:967.8px;font-size:25px;color:#6b5f53;font-weight:700;letter-spacing:-0.2px">February</div><div class="t" style="left:342.3px;width:600px;text-align:center;top:967.8px;font-size:25px;color:#6b5f53;font-weight:700;letter-spacing:-0.2px">March</div><div class="t" style="left:837.7px;width:600px;text-align:center;top:967.8px;font-size:25px;color:#6b5f53;font-weight:700;letter-spacing:-0.2px">April</div><div class="t" style="left:1317.1px;width:600px;text-align:center;top:967.8px;font-size:25px;color:#6b5f53;font-weight:700;letter-spacing:-0.2px">May</div><div class="t" style="left:1812.5px;width:600px;text-align:center;top:967.8px;font-size:25px;color:#6b5f53;font-weight:700;letter-spacing:-0.2px">June</div><div class="t" style="left:2291.9px;width:600px;text-align:center;top:967.8px;font-size:25px;color:#6b5f53;font-weight:700;letter-spacing:-0.2px">July</div><div class="t" style="left:2787.3px;width:600px;text-align:center;top:967.8px;font-size:25px;color:#6b5f53;font-weight:700;letter-spacing:-0.2px">August</div><div style="position:absolute;left:78.5px;top:1104px;width:3203.5px;height:87.5px;box-sizing:border-box;border:4px solid #9aaee5;border-radius:12px;background:#fff"></div><svg style="position:absolute;left:0;top:0;overflow:visible" width="1" height="1"><circle cx="115.9" cy="1146.4" r="11.2" fill="none" stroke="#c1c5ce" stroke-width="1.8"/><path d="M124.2 1154.8 L128.6 1159.2" stroke="#c1c5ce" stroke-width="1.8" stroke-linecap="round"/></svg><div class="t" style="left:148.5px;top:1133.8px;font-size:31px;color:#bfc3cc;font-weight:700;letter-spacing:-0.53px;">Search feedback within this category...</div><div style="position:absolute;left:66px;top:1259px;width:1051px;height:541px;box-sizing:border-box;border:3.5px solid #f7ede3;border-radius:13px;background:#fff"></div><div style="position:absolute;left:1154px;top:1259px;width:1052px;height:335.5px;box-sizing:border-box;border:3.5px solid #f7ede3;border-radius:13px;background:#fff"></div><div style="position:absolute;left:2242px;top:1258.5px;width:1053px;height:284.5px;box-sizing:border-box;border:3.5px solid #f7ede3;border-radius:13px;background:#fff"></div><div style="position:absolute;left:108px;top:1312px;width:37px;height:40px;background:#eeedeb"></div><div style="position:absolute;left:145px;top:1312px;width:37px;height:40px;background:#e8e7e5"></div><div style="position:absolute;left:182px;top:1312px;width:36px;height:40px;background:#e2dfdc"></div><div style="position:absolute;left:218px;top:1312px;width:37px;height:40px;background:#e6e5e3"></div><div style="position:absolute;left:255px;top:1312px;width:37px;height:40px;background:#dddcd9"></div><div style="position:absolute;left:292px;top:1312px;width:37px;height:40px;background:#e2dfdc"></div><div style="position:absolute;left:329px;top:1312px;width:36px;height:40px;background:#e5e4e2"></div><div style="position:absolute;left:365px;top:1312px;width:37px;height:40px;background:#e1e0de"></div><div style="position:absolute;left:402px;top:1312px;width:37px;height:40px;background:#e3e2e0"></div><div style="position:absolute;left:439px;top:1312px;width:37px;height:40px;background:#dedad7"></div><div style="position:absolute;left:476px;top:1312px;width:36px;height:40px;background:#dcd9d6"></div><div style="position:absolute;left:512px;top:1312px;width:37px;height:40px;background:#e6e5e3"></div><div style="position:absolute;left:549px;top:1312px;width:37px;height:40px;background:#e4e1de"></div><div style="position:absolute;left:586px;top:1312px;width:37px;height:40px;background:#dddcd9"></div><div style="position:absolute;left:623px;top:1312px;width:37px;height:40px;background:#e3e2e0"></div><div style="position:absolute;left:660px;top:1312px;width:36px;height:40px;background:#e3e2e0"></div><div style="position:absolute;left:696px;top:1312px;width:37px;height:40px;background:#e9e8e6"></div><div style="position:absolute;left:733px;top:1312px;width:37px;height:40px;background:#e3dfdc"></div><div style="position:absolute;left:770px;top:1312px;width:37px;height:40px;background:#dfdeda"></div><div style="position:absolute;left:807px;top:1312px;width:36px;height:40px;background:#e2e1df"></div><div style="position:absolute;left:843px;top:1312px;width:37px;height:40px;background:#dcd9d6"></div><div style="position:absolute;left:880px;top:1312px;width:37px;height:40px;background:#e9e8e6"></div><div style="position:absolute;left:108px;top:1352px;width:37px;height:40px;background:#eeedeb"></div><div style="position:absolute;left:145px;top:1352px;width:37px;height:40px;background:#f2f2f2"></div><div style="position:absolute;left:182px;top:1352px;width:36px;height:40px;background:#f1f0ee"></div><div style="position:absolute;left:218px;top:1352px;width:37px;height:40px;background:#ebeae8"></div><div style="position:absolute;left:255px;top:1352px;width:37px;height:40px;background:#e9e8e6"></div><div style="position:absolute;left:292px;top:1352px;width:37px;height:40px;background:#e9e8e6"></div><div style="position:absolute;left:329px;top:1352px;width:36px;height:40px;background:#eeedeb"></div><div style="position:absolute;left:365px;top:1352px;width:37px;height:40px;background:#f3f2f0"></div><div style="position:absolute;left:402px;top:1352px;width:37px;height:40px;background:#f0efed"></div><div style="position:absolute;left:439px;top:1352px;width:37px;height:40px;background:#f0efed"></div><div style="position:absolute;left:476px;top:1352px;width:36px;height:40px;background:#f1f0ee"></div><div style="position:absolute;left:512px;top:1352px;width:37px;height:40px;background:#e8e7e5"></div><div style="position:absolute;left:549px;top:1352px;width:37px;height:40px;background:#f0efed"></div><div style="position:absolute;left:586px;top:1352px;width:37px;height:40px;background:#f0efed"></div><div style="position:absolute;left:623px;top:1352px;width:37px;height:40px;background:#f2f1ef"></div><div style="position:absolute;left:660px;top:1352px;width:36px;height:40px;background:#f2f1ef"></div><div style="position:absolute;left:696px;top:1352px;width:37px;height:40px;background:#f2f1ef"></div><div style="position:absolute;left:733px;top:1352px;width:37px;height:40px;background:#ecebe9"></div><div style="position:absolute;left:770px;top:1352px;width:37px;height:40px;background:#eeedeb"></div><div style="position:absolute;left:807px;top:1352px;width:36px;height:40px;background:#eeedeb"></div><div style="position:absolute;left:843px;top:1352px;width:37px;height:40px;background:#f0efed"></div><div style="position:absolute;left:880px;top:1352px;width:37px;height:40px;background:#e9e8e6"></div><div style="position:absolute;left:917px;top:1352px;width:37px;height:40px;background:#f5f5f4"></div><div style="position:absolute;left:954px;top:1352px;width:36px;height:40px;background:#f4f4f4"></div><div style="position:absolute;left:990px;top:1352px;width:37px;height:40px;background:#f5f5f3"></div><div style="position:absolute;left:1027px;top:1352px;width:37px;height:40px;background:#f9f9f9"></div><div style="position:absolute;left:108px;top:1392px;width:37px;height:40px;background:#eeedeb"></div><div style="position:absolute;left:145px;top:1392px;width:37px;height:40px;background:#e4e3e1"></div><div style="position:absolute;left:182px;top:1392px;width:36px;height:40px;background:#e4e3e1"></div><div style="position:absolute;left:218px;top:1392px;width:37px;height:40px;background:#e3e2e0"></div><div style="position:absolute;left:255px;top:1392px;width:37px;height:40px;background:#e5e4e2"></div><div style="position:absolute;left:292px;top:1392px;width:37px;height:40px;background:#e6e5e3"></div><div style="position:absolute;left:329px;top:1392px;width:36px;height:40px;background:#e4e0dd"></div><div style="position:absolute;left:365px;top:1392px;width:37px;height:40px;background:#e6e5e3"></div><div style="position:absolute;left:402px;top:1392px;width:37px;height:40px;background:#e8e7e5"></div><div style="position:absolute;left:439px;top:1392px;width:37px;height:40px;background:#e6e5e3"></div><div style="position:absolute;left:476px;top:1392px;width:36px;height:40px;background:#e1e0de"></div><div style="position:absolute;left:512px;top:1392px;width:37px;height:40px;background:#e6e5e3"></div><div style="position:absolute;left:549px;top:1392px;width:37px;height:40px;background:#e8e7e5"></div><div style="position:absolute;left:586px;top:1392px;width:37px;height:40px;background:#e3dfdc"></div><div style="position:absolute;left:623px;top:1392px;width:37px;height:40px;background:#e8e7e5"></div><div style="position:absolute;left:660px;top:1392px;width:36px;height:40px;background:#e7e6e4"></div><div style="position:absolute;left:696px;top:1392px;width:37px;height:40px;background:#e5e4e2"></div><div style="position:absolute;left:733px;top:1392px;width:37px;height:40px;background:#e1e0de"></div><div style="position:absolute;left:770px;top:1392px;width:37px;height:40px;background:#e5e4e2"></div><div style="position:absolute;left:807px;top:1392px;width:36px;height:40px;background:#e8e7e5"></div><div style="position:absolute;left:843px;top:1392px;width:37px;height:40px;background:#e8e7e5"></div><div style="position:absolute;left:880px;top:1392px;width:37px;height:40px;background:#e1e0de"></div><div style="position:absolute;left:917px;top:1392px;width:37px;height:40px;background:#e8e7e5"></div><div style="position:absolute;left:954px;top:1392px;width:36px;height:40px;background:#ebeae8"></div><div style="position:absolute;left:990px;top:1392px;width:37px;height:40px;background:#e4e0dd"></div><div style="position:absolute;left:1027px;top:1392px;width:37px;height:40px;background:#ecebe9"></div><div style="position:absolute;left:108px;top:1432px;width:37px;height:40px;background:#e5e4e2"></div><div style="position:absolute;left:145px;top:1432px;width:37px;height:40px;background:#dedad7"></div><div style="position:absolute;left:182px;top:1432px;width:36px;height:40px;background:#d9d6d3"></div><div style="position:absolute;left:218px;top:1432px;width:37px;height:40px;background:#dedad7"></div><div style="position:absolute;left:255px;top:1432px;width:37px;height:40px;background:#dad7d4"></div><div style="position:absolute;left:292px;top:1432px;width:37px;height:40px;background:#e0dfdc"></div><div style="position:absolute;left:329px;top:1432px;width:36px;height:40px;background:#e5e4e2"></div><div style="position:absolute;left:365px;top:1432px;width:37px;height:40px;background:#d9d6d3"></div><div style="position:absolute;left:402px;top:1432px;width:37px;height:40px;background:#e0dfdd"></div><div style="position:absolute;left:439px;top:1432px;width:37px;height:40px;background:#dad7d4"></div><div style="position:absolute;left:476px;top:1432px;width:36px;height:40px;background:#dedcd9"></div><div style="position:absolute;left:512px;top:1432px;width:37px;height:40px;background:#dedad7"></div><div style="position:absolute;left:549px;top:1432px;width:37px;height:40px;background:#e1e0de"></div><div style="position:absolute;left:586px;top:1432px;width:37px;height:40px;background:#dddcd9"></div><div style="position:absolute;left:623px;top:1432px;width:37px;height:40px;background:#dedad7"></div><div style="position:absolute;left:660px;top:1432px;width:36px;height:40px;background:#e3dfdc"></div><div style="position:absolute;left:696px;top:1432px;width:37px;height:40px;background:#dad7d4"></div><div style="position:absolute;left:733px;top:1432px;width:37px;height:40px;background:#e5e4e2"></div><div style="position:absolute;left:770px;top:1432px;width:37px;height:40px;background:#d3d0cd"></div><div style="position:absolute;left:807px;top:1432px;width:36px;height:40px;background:#e1e0de"></div><div style="position:absolute;left:843px;top:1432px;width:37px;height:40px;background:#e1ddda"></div><div style="position:absolute;left:880px;top:1432px;width:37px;height:40px;background:#dad7d4"></div><div style="position:absolute;left:917px;top:1432px;width:37px;height:40px;background:#dddcd8"></div><div style="position:absolute;left:954px;top:1432px;width:36px;height:40px;background:#dedad7"></div><div style="position:absolute;left:990px;top:1432px;width:37px;height:40px;background:#dad7d4"></div><div style="position:absolute;left:1027px;top:1432px;width:37px;height:40px;background:#e8e7e5"></div><div style="position:absolute;left:108px;top:1472px;width:37px;height:40px;background:#eeedeb"></div><div style="position:absolute;left:145px;top:1472px;width:37px;height:40px;background:#dedad7"></div><div style="position:absolute;left:182px;top:1472px;width:36px;height:40px;background:#e3e2e0"></div><div style="position:absolute;left:218px;top:1472px;width:37px;height:40px;background:#e1ddda"></div><div style="position:absolute;left:255px;top:1472px;width:37px;height:40px;background:#dedad7"></div><div style="position:absolute;left:292px;top:1472px;width:37px;height:40px;background:#e2e1df"></div><div style="position:absolute;left:329px;top:1472px;width:36px;height:40px;background:#dfdbd8"></div><div style="position:absolute;left:365px;top:1472px;width:37px;height:40px;background:#dfdedb"></div><div style="position:absolute;left:402px;top:1472px;width:37px;height:40px;background:#e5e4e2"></div><div style="position:absolute;left:439px;top:1472px;width:37px;height:40px;background:#d5d2cf"></div><div style="position:absolute;left:476px;top:1472px;width:36px;height:40px;background:#dfdedb"></div><div style="position:absolute;left:512px;top:1472px;width:37px;height:40px;background:#e4e0dd"></div><div style="position:absolute;left:549px;top:1472px;width:37px;height:40px;background:#e4e0dd"></div><div style="position:absolute;left:586px;top:1472px;width:37px;height:40px;background:#dddcd9"></div><div style="position:absolute;left:623px;top:1472px;width:37px;height:40px;background:#e2dedb"></div><div style="position:absolute;left:660px;top:1472px;width:36px;height:40px;background:#dedad7"></div><div style="position:absolute;left:696px;top:1472px;width:37px;height:40px;background:#e5e1de"></div><div style="position:absolute;left:733px;top:1472px;width:37px;height:40px;background:#dedad7"></div><div style="position:absolute;left:770px;top:1472px;width:37px;height:40px;background:#e9e8e6"></div><div style="position:absolute;left:807px;top:1472px;width:36px;height:40px;background:#dddcd8"></div><div style="position:absolute;left:843px;top:1472px;width:37px;height:40px;background:#f3f3f1"></div><div style="position:absolute;left:108px;top:1512px;width:37px;height:40px;background:#fcfcfc"></div><div style="position:absolute;left:145px;top:1512px;width:37px;height:40px;background:#fbfbfb"></div><div style="position:absolute;left:182px;top:1512px;width:36px;height:40px;background:#f4f4f4"></div><div style="position:absolute;left:218px;top:1512px;width:37px;height:40px;background:#f8f8f8"></div><div style="position:absolute;left:255px;top:1512px;width:37px;height:40px;background:#fafafa"></div><div style="position:absolute;left:292px;top:1512px;width:37px;height:40px;background:#fafafa"></div><div style="position:absolute;left:329px;top:1512px;width:36px;height:40px;background:#fafafa"></div><div style="position:absolute;left:365px;top:1512px;width:37px;height:40px;background:#fafaf9"></div><div style="position:absolute;left:402px;top:1512px;width:37px;height:40px;background:#fafaf9"></div><div style="position:absolute;left:439px;top:1512px;width:37px;height:40px;background:#fafaf9"></div><div style="position:absolute;left:476px;top:1512px;width:36px;height:40px;background:#fbfbfa"></div><div style="position:absolute;left:512px;top:1512px;width:37px;height:40px;background:#fbfbfb"></div><div style="position:absolute;left:549px;top:1512px;width:37px;height:40px;background:#fafaf9"></div><div style="position:absolute;left:586px;top:1512px;width:37px;height:40px;background:#fbfbfb"></div><div style="position:absolute;left:623px;top:1512px;width:37px;height:40px;background:#fbfbfa"></div><div style="position:absolute;left:660px;top:1512px;width:36px;height:40px;background:#f9f9f9"></div><div style="position:absolute;left:696px;top:1512px;width:37px;height:40px;background:#f8f8f7"></div><div style="position:absolute;left:733px;top:1512px;width:37px;height:40px;background:#fafafa"></div><div style="position:absolute;left:770px;top:1512px;width:37px;height:40px;background:#fbfbfb"></div><div style="position:absolute;left:807px;top:1512px;width:36px;height:40px;background:#fbfbfb"></div><div style="position:absolute;left:843px;top:1512px;width:37px;height:40px;background:#fcfcfc"></div><div style="position:absolute;left:108px;top:1552px;width:37px;height:40px;background:#e5e7f7"></div><div style="position:absolute;left:145px;top:1552px;width:37px;height:40px;background:#c8d0f0"></div><div style="position:absolute;left:182px;top:1552px;width:36px;height:40px;background:#dadef4"></div><div style="position:absolute;left:218px;top:1552px;width:37px;height:40px;background:#d6dbf5"></div><div style="position:absolute;left:255px;top:1552px;width:37px;height:40px;background:#d8ddf6"></div><div style="position:absolute;left:292px;top:1552px;width:37px;height:40px;background:#dcdff4"></div><div style="position:absolute;left:329px;top:1552px;width:36px;height:40px;background:#eef1fb"></div><div style="position:absolute;left:1196px;top:1314px;width:36px;height:44px;background:#ecebe9"></div><div style="position:absolute;left:1232px;top:1314px;width:36px;height:44px;background:#e1dedb"></div><div style="position:absolute;left:1268px;top:1314px;width:36px;height:44px;background:#e2e1df"></div><div style="position:absolute;left:1304px;top:1314px;width:36px;height:44px;background:#dbd8d5"></div><div style="position:absolute;left:1340px;top:1314px;width:36px;height:44px;background:#dedad7"></div><div style="position:absolute;left:1376px;top:1314px;width:36px;height:44px;background:#e2dfdc"></div><div style="position:absolute;left:1412px;top:1314px;width:36px;height:44px;background:#e2dfdc"></div><div style="position:absolute;left:1448px;top:1314px;width:36px;height:44px;background:#e1dfdc"></div><div style="position:absolute;left:1484px;top:1314px;width:36px;height:44px;background:#dcd9d6"></div><div style="position:absolute;left:1520px;top:1314px;width:36px;height:44px;background:#e4e3e1"></div><div style="position:absolute;left:1556px;top:1314px;width:36px;height:44px;background:#e2e1df"></div><div style="position:absolute;left:1592px;top:1314px;width:36px;height:44px;background:#e3e2e0"></div><div style="position:absolute;left:1628px;top:1314px;width:36px;height:44px;background:#d9d6d3"></div><div style="position:absolute;left:1664px;top:1314px;width:36px;height:44px;background:#dfdcd9"></div><div style="position:absolute;left:1700px;top:1314px;width:36px;height:44px;background:#e4e3e1"></div><div style="position:absolute;left:1736px;top:1314px;width:36px;height:44px;background:#dfdcd9"></div><div style="position:absolute;left:1772px;top:1314px;width:36px;height:44px;background:#dddcd9"></div><div style="position:absolute;left:1808px;top:1314px;width:36px;height:44px;background:#e3e2e0"></div><div style="position:absolute;left:1844px;top:1314px;width:36px;height:44px;background:#dedad7"></div><div style="position:absolute;left:1880px;top:1314px;width:36px;height:44px;background:#e8e7e5"></div><div style="position:absolute;left:1916px;top:1314px;width:36px;height:44px;background:#e2dfdc"></div><div style="position:absolute;left:1952px;top:1314px;width:36px;height:44px;background:#dcd9d6"></div><div style="position:absolute;left:1988px;top:1314px;width:36px;height:44px;background:#dddcd9"></div><div style="position:absolute;left:2024px;top:1314px;width:36px;height:44px;background:#deddda"></div><div style="position:absolute;left:2060px;top:1314px;width:36px;height:44px;background:#e3e2e0"></div><div style="position:absolute;left:2096px;top:1314px;width:36px;height:44px;background:#ecebe9"></div><div style="position:absolute;left:1196px;top:1358px;width:36px;height:46px;background:#ebeae8"></div><div style="position:absolute;left:1232px;top:1358px;width:36px;height:46px;background:#e1e0dd"></div><div style="position:absolute;left:1268px;top:1358px;width:36px;height:46px;background:#ebeae8"></div><div style="position:absolute;left:1304px;top:1358px;width:36px;height:46px;background:#e1e0de"></div><div style="position:absolute;left:1340px;top:1358px;width:36px;height:46px;background:#e6e5e3"></div><div style="position:absolute;left:1376px;top:1358px;width:36px;height:46px;background:#e7e6e4"></div><div style="position:absolute;left:1412px;top:1358px;width:36px;height:46px;background:#e7e6e4"></div><div style="position:absolute;left:1448px;top:1358px;width:36px;height:46px;background:#e6e5e3"></div><div style="position:absolute;left:1484px;top:1358px;width:36px;height:46px;background:#e5e4e2"></div><div style="position:absolute;left:1520px;top:1358px;width:36px;height:46px;background:#f1f0ee"></div><div style="position:absolute;left:1556px;top:1358px;width:36px;height:46px;background:#e1e0de"></div><div style="position:absolute;left:1592px;top:1358px;width:36px;height:46px;background:#e4e3e1"></div><div style="position:absolute;left:1628px;top:1358px;width:36px;height:46px;background:#ebeae8"></div><div style="position:absolute;left:1664px;top:1358px;width:36px;height:46px;background:#e4e3e1"></div><div style="position:absolute;left:1700px;top:1358px;width:36px;height:46px;background:#e2e1df"></div><div style="position:absolute;left:1736px;top:1358px;width:36px;height:46px;background:#e6e5e3"></div><div style="position:absolute;left:1772px;top:1358px;width:36px;height:46px;background:#e8e7e5"></div><div style="position:absolute;left:1808px;top:1358px;width:36px;height:46px;background:#e6e5e3"></div><div style="position:absolute;left:1844px;top:1358px;width:36px;height:46px;background:#e1e0de"></div><div style="position:absolute;left:1880px;top:1358px;width:36px;height:46px;background:#f5f5f3"></div><div style="position:absolute;left:1916px;top:1358px;width:36px;height:46px;background:#fdfdfd"></div><div style="position:absolute;left:1952px;top:1358px;width:36px;height:46px;background:#fcfcfc"></div><div style="position:absolute;left:1988px;top:1358px;width:36px;height:46px;background:#f9f9f9"></div><div style="position:absolute;left:1196px;top:1404px;width:36px;height:44px;background:#fafafa"></div><div style="position:absolute;left:1232px;top:1404px;width:36px;height:44px;background:#f2f2f0"></div><div style="position:absolute;left:1268px;top:1404px;width:36px;height:44px;background:#f7f7f6"></div><div style="position:absolute;left:1304px;top:1404px;width:36px;height:44px;background:#f6f6f6"></div><div style="position:absolute;left:1340px;top:1404px;width:36px;height:44px;background:#f6f6f4"></div><div style="position:absolute;left:1376px;top:1404px;width:36px;height:44px;background:#f7f7f5"></div><div style="position:absolute;left:1412px;top:1404px;width:36px;height:44px;background:#f7f7f5"></div><div style="position:absolute;left:1448px;top:1404px;width:36px;height:44px;background:#f7f7f5"></div><div style="position:absolute;left:1484px;top:1404px;width:36px;height:44px;background:#f7f7f5"></div><div style="position:absolute;left:1520px;top:1404px;width:36px;height:44px;background:#f7f7f5"></div><div style="position:absolute;left:1556px;top:1404px;width:36px;height:44px;background:#f7f7f5"></div><div style="position:absolute;left:1592px;top:1404px;width:36px;height:44px;background:#f5f5f3"></div><div style="position:absolute;left:1628px;top:1404px;width:36px;height:44px;background:#f9f9f9"></div><div style="position:absolute;left:1664px;top:1404px;width:36px;height:44px;background:#f4f4f2"></div><div style="position:absolute;left:1700px;top:1404px;width:36px;height:44px;background:#f6f6f5"></div><div style="position:absolute;left:1736px;top:1404px;width:36px;height:44px;background:#f4f4f2"></div><div style="position:absolute;left:1772px;top:1404px;width:36px;height:44px;background:#f5f5f3"></div><div style="position:absolute;left:1808px;top:1404px;width:36px;height:44px;background:#f6f6f4"></div><div style="position:absolute;left:1844px;top:1404px;width:36px;height:44px;background:#f5f5f4"></div><div style="position:absolute;left:1880px;top:1404px;width:36px;height:44px;background:#fcfcfa"></div><div style="position:absolute;left:1196px;top:1448px;width:36px;height:44px;background:#e5e8f7"></div><div style="position:absolute;left:1232px;top:1448px;width:36px;height:44px;background:#d7dcf5"></div><div style="position:absolute;left:1268px;top:1448px;width:36px;height:44px;background:#d2d9f3"></div><div style="position:absolute;left:1304px;top:1448px;width:36px;height:44px;background:#dadff5"></div><div style="position:absolute;left:1340px;top:1448px;width:36px;height:44px;background:#dadef4"></div><div style="position:absolute;left:1376px;top:1448px;width:36px;height:44px;background:#d8dcf5"></div><div style="position:absolute;left:1412px;top:1448px;width:36px;height:44px;background:#dadef4"></div><div style="position:absolute;left:1448px;top:1448px;width:36px;height:44px;background:#dadef4"></div><div style="position:absolute;left:1484px;top:1448px;width:36px;height:44px;background:#d7dcf5"></div><div style="position:absolute;left:1520px;top:1448px;width:36px;height:44px;background:#dadef4"></div><div style="position:absolute;left:1556px;top:1448px;width:36px;height:44px;background:#e0e5f6"></div><div style="position:absolute;left:1592px;top:1448px;width:36px;height:44px;background:#dfe3f6"></div><div style="position:absolute;left:1628px;top:1448px;width:36px;height:44px;background:#fafafd"></div><div style="position:absolute;left:2294px;top:1314px;width:37px;height:44px;background:#dddcd9"></div><div style="position:absolute;left:2331px;top:1314px;width:37px;height:44px;background:#dedad7"></div><div style="position:absolute;left:2368px;top:1314px;width:36px;height:44px;background:#dedad7"></div><div style="position:absolute;left:2404px;top:1314px;width:37px;height:44px;background:#dcd9d6"></div><div style="position:absolute;left:2441px;top:1314px;width:37px;height:44px;background:#ecebe9"></div><div style="position:absolute;left:2294px;top:1400px;width:37px;height:44px;background:#d9ddf5"></div><div style="position:absolute;left:2331px;top:1400px;width:37px;height:44px;background:#d6dbf5"></div><div style="position:absolute;left:2368px;top:1400px;width:36px;height:44px;background:#dce0f5"></div><div style="position:absolute;left:2404px;top:1400px;width:37px;height:44px;background:#d2d8f3"></div><div style="position:absolute;left:2441px;top:1400px;width:37px;height:44px;background:#dcdff5"></div><div style="position:absolute;left:2478px;top:1400px;width:37px;height:44px;background:#d3d9f3"></div><div style="position:absolute;left:2515px;top:1400px;width:37px;height:44px;background:#d7dbf4"></div><div style="position:absolute;left:2552px;top:1400px;width:36px;height:44px;background:#d9ddf5"></div><div style="position:absolute;left:2588px;top:1400px;width:37px;height:44px;background:#d8dcf4"></div><div style="position:absolute;left:2625px;top:1400px;width:37px;height:44px;background:#d8dcf3"></div><div style="position:absolute;left:2662px;top:1400px;width:37px;height:44px;background:#d9ddf5"></div><div style="position:absolute;left:2699px;top:1400px;width:37px;height:44px;background:#dadef4"></div><div style="position:absolute;left:2736px;top:1400px;width:36px;height:44px;background:#dcdff4"></div><div style="position:absolute;left:2772px;top:1400px;width:37px;height:44px;background:#dcdff4"></div><div style="position:absolute;left:2809px;top:1400px;width:37px;height:44px;background:#eef1fb"></div><svg style="position:absolute;left:123px;top:1613px" width="26" height="28" viewBox="0 0 26 28"><rect x="1.65" y="4.25" width="21.7" height="21.1" rx="2.6" fill="none" stroke="#6b5e50" stroke-width="2.7"/><rect x="0.3" y="2.9" width="24.4" height="5" rx="2.6" fill="#6b5e50"/><rect x="0.3" y="5.5" width="24.4" height="2.4" fill="#6b5e50"/><rect x="6" y="0" width="2.6" height="4" fill="#6b5e50"/><rect x="16.5" y="0" width="2.6" height="4" fill="#6b5e50"/><g fill="#6b5e50"><rect x="5.65" y="12.05" width="2.7" height="2.7" rx=".5"/><rect x="11.15" y="12.05" width="2.7" height="2.7" rx=".5"/><rect x="16.55" y="12.05" width="2.7" height="2.7" rx=".5"/><rect x="5.65" y="17.45" width="2.7" height="2.7" rx=".5"/><rect x="11.15" y="17.45" width="2.7" height="2.7" rx=".5"/><rect x="16.55" y="17.45" width="2.7" height="2.7" rx=".5"/></g></svg><div class="t" style="left:166.0px;top:1614.1px;font-size:27px;color:#5d6066;font-weight:700;letter-spacing:-1.25px;">Aug 13, 2025</div><svg style="position:absolute;left:352px;top:1613px" width="26" height="26" viewBox="0 0 26 26"><path d="M6.2 3 H20.2 L24.6 10 L13.1 23.6 L1.6 10 Z M1.6 10 H24.6 M9 3.2 L8.4 10 L13.1 23.4 M16.8 3.2 L17.8 10 L13.1 23.4" fill="none" stroke="#6b5e50" stroke-width="1.8" stroke-linejoin="round"/></svg><div class="t" style="left:388.5px;top:1614.1px;font-size:27px;color:#5d6066;font-weight:700;letter-spacing:-0.57px;">$35 MRR</div><svg style="position:absolute;left:1211px;top:1508px" width="26" height="28" viewBox="0 0 26 28"><rect x="1.65" y="4.25" width="21.7" height="21.1" rx="2.6" fill="none" stroke="#6b5e50" stroke-width="2.7"/><rect x="0.3" y="2.9" width="24.4" height="5" rx="2.6" fill="#6b5e50"/><rect x="0.3" y="5.5" width="24.4" height="2.4" fill="#6b5e50"/><rect x="6" y="0" width="2.6" height="4" fill="#6b5e50"/><rect x="16.5" y="0" width="2.6" height="4" fill="#6b5e50"/><g fill="#6b5e50"><rect x="5.65" y="12.05" width="2.7" height="2.7" rx=".5"/><rect x="11.15" y="12.05" width="2.7" height="2.7" rx=".5"/><rect x="16.55" y="12.05" width="2.7" height="2.7" rx=".5"/><rect x="5.65" y="17.45" width="2.7" height="2.7" rx=".5"/><rect x="11.15" y="17.45" width="2.7" height="2.7" rx=".5"/><rect x="16.55" y="17.45" width="2.7" height="2.7" rx=".5"/></g></svg><div class="t" style="left:1254.0px;top:1509.1px;font-size:27px;color:#5d6066;font-weight:700;letter-spacing:-1.25px;">Aug 13, 2025</div><svg style="position:absolute;left:1440px;top:1508px" width="26" height="26" viewBox="0 0 26 26"><path d="M6.2 3 H20.2 L24.6 10 L13.1 23.6 L1.6 10 Z M1.6 10 H24.6 M9 3.2 L8.4 10 L13.1 23.4 M16.8 3.2 L17.8 10 L13.1 23.4" fill="none" stroke="#6b5e50" stroke-width="1.8" stroke-linejoin="round"/></svg><div class="t" style="left:1476.5px;top:1509.1px;font-size:27px;color:#5d6066;font-weight:700;letter-spacing:-0.57px;">$35 MRR</div><svg style="position:absolute;left:2300px;top:1455px" width="26" height="28" viewBox="0 0 26 28"><rect x="1.65" y="4.25" width="21.7" height="21.1" rx="2.6" fill="none" stroke="#6b5e50" stroke-width="2.7"/><rect x="0.3" y="2.9" width="24.4" height="5" rx="2.6" fill="#6b5e50"/><rect x="0.3" y="5.5" width="24.4" height="2.4" fill="#6b5e50"/><rect x="6" y="0" width="2.6" height="4" fill="#6b5e50"/><rect x="16.5" y="0" width="2.6" height="4" fill="#6b5e50"/><g fill="#6b5e50"><rect x="5.65" y="12.05" width="2.7" height="2.7" rx=".5"/><rect x="11.15" y="12.05" width="2.7" height="2.7" rx=".5"/><rect x="16.55" y="12.05" width="2.7" height="2.7" rx=".5"/><rect x="5.65" y="17.45" width="2.7" height="2.7" rx=".5"/><rect x="11.15" y="17.45" width="2.7" height="2.7" rx=".5"/><rect x="16.55" y="17.45" width="2.7" height="2.7" rx=".5"/></g></svg><div class="t" style="left:2343.0px;top:1456.1px;font-size:27px;color:#5d6066;font-weight:700;letter-spacing:-1.25px;">Aug 13, 2025</div><svg style="position:absolute;left:2529px;top:1455px" width="26" height="26" viewBox="0 0 26 26"><path d="M6.2 3 H20.2 L24.6 10 L13.1 23.6 L1.6 10 Z M1.6 10 H24.6 M9 3.2 L8.4 10 L13.1 23.4 M16.8 3.2 L17.8 10 L13.1 23.4" fill="none" stroke="#6b5e50" stroke-width="1.8" stroke-linejoin="round"/></svg><div class="t" style="left:2565.5px;top:1456.1px;font-size:27px;color:#5d6066;font-weight:700;letter-spacing:-0.57px;">$35 MRR</div>
</body></html>
